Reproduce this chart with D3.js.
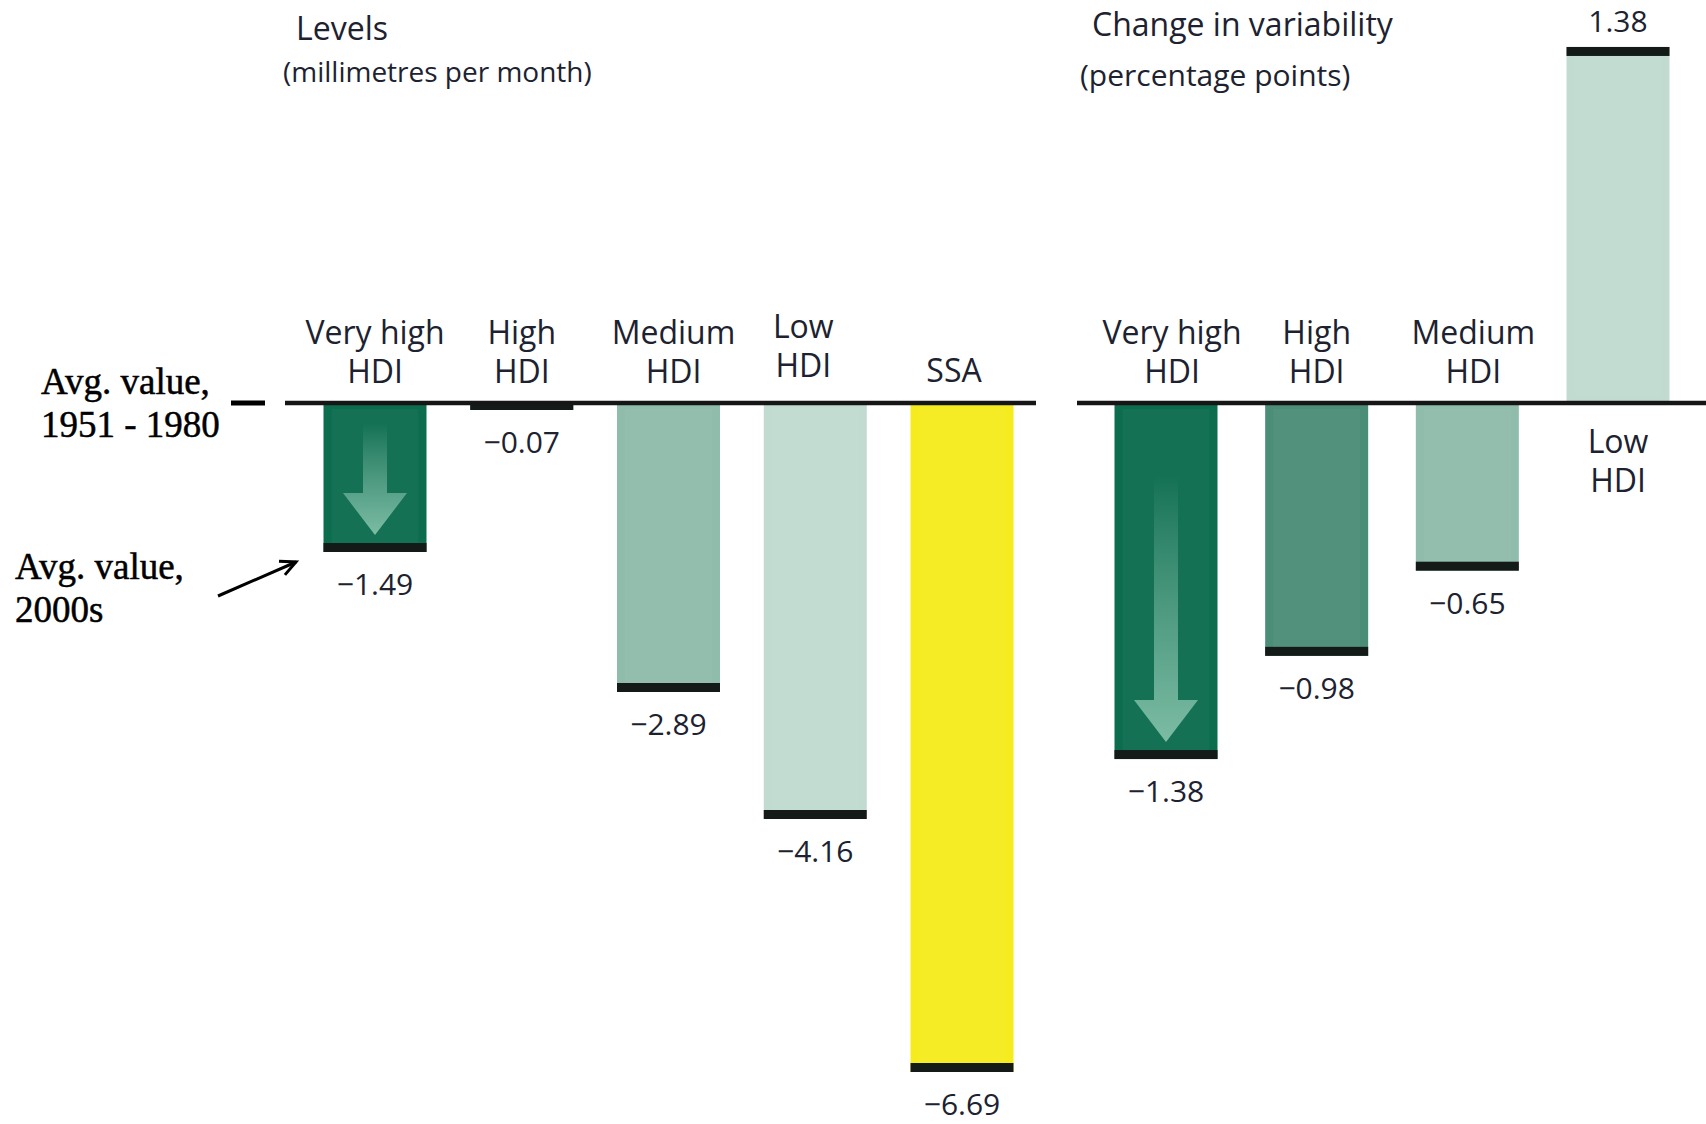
<!DOCTYPE html>
<html>
<head>
<meta charset="utf-8">
<script src="https://cdn.jsdelivr.net/npm/d3@7/dist/d3.min.js"></script>
<style>
  html, body { margin: 0; padding: 0; background: #ffffff; }
  svg { display: block; }
</style>
</head>
<body>
<script>
// ---------------- data ----------------
const levelCategories = ["Very high HDI", "High HDI", "Medium HDI", "Low HDI", "SSA"];
const levelValues = [-1.49, -0.07, -2.89, -4.16, -6.69];
const variabilityCategories = ["Very high HDI", "High HDI", "Medium HDI", "Low HDI"];
const variabilityValues = [-1.38, -0.98, -0.65, 1.38];
const levelTitle = "Levels";
const levelSubtitle = "(millimetres per month)";
const variabilityTitle = "Change in variability";
const variabilitySubtitle = "(percentage points)";
const baselineNote = ["Avg. value,", "1951 - 1980"];
const endNote = ["Avg. value,", "2000s"];

// ---------------- style ----------------
const palette = {
  "Very high HDI": "#0b6c4e",
  "High HDI": "#4b8e77",
  "Medium HDI": "#8fbcab",
  "Low HDI": "#c1dbd1",
  "SSA": "#f6ec1d"
};
const W = 1706, H = 1124;
const sans = "'Open Sans', 'Noto Sans', sans-serif";
const serif = "'Liberation Serif', 'DejaVu Serif', serif";
const textColor = "#1d2230";
const baseY = 403;
const barW = 103;
const capH = 9;

const svg = d3.select("body").append("svg").attr("width", W).attr("height", H);
const defs = svg.append("defs");
const grad = defs.append("linearGradient").attr("id", "arrowGrad")
  .attr("x1", 0).attr("y1", 0).attr("x2", 0).attr("y2", 1);
grad.append("stop").attr("offset", "0%").attr("stop-color", "#9fd3bf").attr("stop-opacity", 0);
grad.append("stop").attr("offset", "55%").attr("stop-color", "#8fc9b3").attr("stop-opacity", 0.5);
grad.append("stop").attr("offset", "100%").attr("stop-color", "#8fc9b3").attr("stop-opacity", 0.85);

// ---------------- scales ----------------
const xL = d3.scalePoint().domain(levelCategories).range([375, 962]);
const yL = d3.scaleLinear().domain([-7, 0]).range([baseY + 700, baseY]);
const xR = d3.scalePoint().domain(variabilityCategories).range([1166, 1618]);
const yR = d3.scaleLinear().domain([-1.5, 1.5]).range([baseY + 1.5 * 258, baseY - 1.5 * 258]);

const fmt = v => (v < 0 ? "\u2212" : "") + d3.format(".2f")(Math.abs(v));

function drawPanel(cats, vals, x, y, x0, x1, labelShift) {
  const g = svg.append("g");
  const data = cats.map((c, i) => ({ c, v: vals[i] }));

  // bars
  g.selectAll("rect.bar").data(data).join("rect")
    .attr("class", "bar")
    .attr("x", d => x(d.c) - barW / 2)
    .attr("width", barW)
    .attr("y", d => Math.min(y(0), y(d.v)))
    .attr("height", d => Math.abs(y(d.v) - y(0)))
    .attr("fill", d => palette[d.c]);

  // subtle lighter inner band
  g.selectAll("rect.sheen").data(data).join("rect")
    .attr("class", "sheen")
    .attr("x", d => x(d.c) - barW / 2 + 8)
    .attr("width", barW - 16)
    .attr("y", d => Math.min(y(0), y(d.v)) + 6)
    .attr("height", d => Math.max(0, Math.abs(y(d.v) - y(0)) - 12))
    .attr("fill", "#ffffff").attr("opacity", 0.04);

  // end caps
  g.selectAll("rect.cap").data(data).join("rect")
    .attr("class", "cap")
    .attr("x", d => x(d.c) - barW / 2)
    .attr("width", barW)
    .attr("y", d => d.v < 0 ? y(d.v) - capH : y(d.v))
    .attr("height", capH)
    .attr("fill", "#141a17");

  // value labels
  g.selectAll("text.val").data(data).join("text")
    .attr("class", "val")
    .attr("x", d => x(d.c))
    .attr("y", d => d.v < 0 ? y(d.v) + 43 : y(d.v) - 15)
    .attr("text-anchor", "middle")
    .attr("font-family", sans).attr("font-size", 30)
    .attr("fill", textColor)
    .text(d => fmt(d.v));

  // category labels
  data.forEach(d => {
    const parts = d.c.endsWith(" HDI") ? [d.c.replace(/ HDI$/, ""), "HDI"] : [d.c];
    const s = labelShift[d.c] || { dx: 0, dy: 0 };
    const t = g.append("text")
      .attr("text-anchor", "middle")
      .attr("font-family", sans).attr("font-size", 32)
      .attr("fill", textColor);
    let firstY;
    if (d.v < 0) {
      firstY = baseY - 21 - 38 * (parts.length - 1) + s.dy;
    } else {
      firstY = baseY + 50;
    }
    parts.forEach((p, i) => {
      t.append("tspan").attr("x", x(d.c) + s.dx).attr("y", firstY + i * 39).text(p);
    });
  });

  // arrow in the first bar
  const first = data[0];
  const bottom = y(first.v);
  const tip = bottom - capH - 8;
  const h = bottom - y(0);
  const headH = 42, headW = 64, shaftW = 24;
  const top = tip - 0.75 * h;
  const cx = x(first.c);
  const headTop = tip - headH;
  g.append("path")
    .attr("d", `M${cx - shaftW / 2},${top} L${cx + shaftW / 2},${top} L${cx + shaftW / 2},${headTop} L${cx + headW / 2},${headTop} L${cx},${tip} L${cx - headW / 2},${headTop} L${cx - shaftW / 2},${headTop} Z`)
    .attr("fill", "url(#arrowGrad)");

  // baseline
  g.append("line")
    .attr("x1", x0).attr("x2", x1)
    .attr("y1", y(0)).attr("y2", y(0))
    .attr("stroke", "#161616").attr("stroke-width", 4.5);
}

drawPanel(levelCategories, levelValues, xL, yL, 285, 1036,
  { "Low HDI": { dx: -12, dy: -6 }, "Medium HDI": { dx: 5, dy: 0 }, "SSA": { dx: -8, dy: 0 } });
drawPanel(variabilityCategories, variabilityValues, xR, yR, 1077, 1706,
  { "Very high HDI": { dx: 6, dy: 0 }, "Medium HDI": { dx: 6, dy: 0 } });

// ---------------- titles ----------------
svg.append("text").attr("x", 296).attr("y", 40)
  .attr("font-family", sans).attr("font-size", 32).attr("fill", textColor).text(levelTitle);
svg.append("text").attr("x", 283).attr("y", 82)
  .attr("font-family", sans).attr("font-size", 28).attr("fill", textColor).text(levelSubtitle);
svg.append("text").attr("x", 1092).attr("y", 36)
  .attr("font-family", sans).attr("font-size", 32).attr("fill", textColor).text(variabilityTitle);
svg.append("text").attr("x", 1080).attr("y", 86)
  .attr("font-family", sans).attr("font-size", 30).attr("fill", textColor).text(variabilitySubtitle);

// ---------------- annotations ----------------
const ann = svg.append("g").attr("font-family", serif).attr("font-size", 37)
  .attr("fill", "#000").attr("stroke", "#000").attr("stroke-width", 0.5);
ann.append("text").attr("x", 41).attr("y", 394).text(baselineNote[0]);
ann.append("text").attr("x", 41).attr("y", 437).text(baselineNote[1]);
ann.append("text").attr("x", 15).attr("y", 579).text(endNote[0]);
ann.append("text").attr("x", 15).attr("y", 622).text(endNote[1]);

svg.append("line").attr("x1", 231).attr("x2", 265).attr("y1", baseY).attr("y2", baseY)
  .attr("stroke", "#000").attr("stroke-width", 5);

// pointer arrow toward the end cap of first bar
const ax1 = 218, ay1 = 596, ax2 = 296, ay2 = yL(levelValues[0]) + 10;
svg.append("line").attr("x1", ax1).attr("y1", ay1).attr("x2", ax2).attr("y2", ay2)
  .attr("stroke", "#000").attr("stroke-width", 3);
const ang = Math.atan2(ay2 - ay1, ax2 - ax1);
const hl = 17;
svg.append("path")
  .attr("d", `M${ax2 - hl * Math.cos(ang - 0.45)},${ay2 - hl * Math.sin(ang - 0.45)} L${ax2},${ay2} L${ax2 - hl * Math.cos(ang + 0.45)},${ay2 - hl * Math.sin(ang + 0.45)}`)
  .attr("fill", "none").attr("stroke", "#000").attr("stroke-width", 3);
</script>
</body>
</html>
